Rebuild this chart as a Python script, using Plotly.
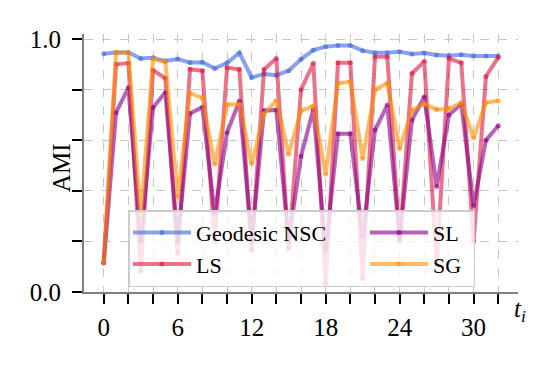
import plotly.graph_objects as go

t_steps = list(range(33))

geodesic_nsc = [0.942, 0.947, 0.947, 0.923, 0.926, 0.913, 0.921, 0.907, 0.908, 0.884, 0.905,
                0.945, 0.848, 0.862, 0.857, 0.875, 0.920, 0.956, 0.970, 0.975, 0.975, 0.954,
                0.946, 0.946, 0.950, 0.941, 0.945, 0.937, 0.934, 0.938, 0.933, 0.933, 0.933]
ls_vals = [0.116, 0.900, 0.905, 0.080, 0.876, 0.845, 0.152, 0.881, 0.875, 0.200, 0.887,
           0.880, 0.165, 0.880, 0.923, 0.170, 0.800, 0.904, 0.033, 0.906, 0.906, 0.053,
           0.930, 0.930, 0.200, 0.864, 0.912, 0.105, 0.924, 0.906, 0.200, 0.852, 0.928]
sl_vals = [0.116, 0.709, 0.808, 0.200, 0.729, 0.789, 0.200, 0.706, 0.730, 0.310, 0.630,
           0.755, 0.200, 0.717, 0.720, 0.200, 0.537, 0.722, 0.170, 0.626, 0.626, 0.220,
           0.640, 0.739, 0.210, 0.680, 0.772, 0.417, 0.700, 0.743, 0.341, 0.600, 0.657]
sg_vals = [0.116, 0.947, 0.947, 0.300, 0.921, 0.910, 0.376, 0.786, 0.767, 0.505, 0.741,
           0.742, 0.508, 0.705, 0.757, 0.545, 0.716, 0.735, 0.466, 0.825, 0.831, 0.528,
           0.800, 0.825, 0.567, 0.719, 0.743, 0.722, 0.724, 0.748, 0.610, 0.748, 0.756]

x_tickvals = list(range(0, 33, 2))
x_ticktext = [str(v) if v % 6 == 0 else "" for v in x_tickvals]
y_tickvals = [0.0, 0.2, 0.4, 0.6, 0.8, 1.0]
y_ticktext = ["0.0", "", "", "", "", "1.0"]

series = [
    ("Geodesic NSC", geodesic_nsc, "rgba(65,105,225,0.62)", "g1", 164),
    ("LS", ls_vals, "rgba(220,20,60,0.6)", "g1", 164),
    ("SL", sl_vals, "rgba(139,0,139,0.62)", "g2", 35),
    ("SG", sg_vals, "rgba(255,140,0,0.6)", "g2", 35),
]

FONT = "Liberation Serif"
TICK_SIZE = 25

fig = go.Figure()
for name, vals, col, grp, lw in series:
    fig.add_trace(go.Scatter(
        x=t_steps, y=vals, name=name, mode="lines+markers",
        line=dict(color=col, width=4),
        marker=dict(color=col, size=5),
        legendgroup=grp, legendwidth=lw,
    ))

axis_common = dict(
    showgrid=True, griddash="dash", gridcolor="#c8c8c8", gridwidth=1,
    showline=True, linecolor="#808080", linewidth=2,
    ticks="outside", ticklen=10, tickwidth=2, tickcolor="black",
    zeroline=False, tickfont=dict(family=FONT, size=TICK_SIZE, color="black"),
    mirror=False,
)

fig.update_layout(
    width=550, height=366,
    margin=dict(l=84, r=32, t=34, b=74),
    paper_bgcolor="white", plot_bgcolor="white",
    xaxis=dict(range=[-1.6, 33.6], tickmode="array", tickvals=x_tickvals,
               ticktext=x_ticktext, ticklabelstandoff=2, **axis_common),
    yaxis=dict(range=[0, 1.02], tickmode="array", tickvals=y_tickvals,
               ticktext=y_ticktext, ticklabelstandoff=6, **axis_common),
    legend=dict(
        orientation="h", traceorder="grouped", itemwidth=58,
        x=0.1014, y=0.317, xanchor="left", yanchor="top",
        bgcolor="rgba(255,255,255,0.8)", bordercolor="#cccccc", borderwidth=1.5,
        font=dict(family=FONT, size=22, color="black"),
        tracegroupgap=0,
    ),
    showlegend=True,
    annotations=[
        dict(text="AMI", xref="paper", yref="paper", x=-0.053, y=0.484,
             textangle=-90, showarrow=False, xanchor="center", yanchor="middle",
             font=dict(family=FONT, size=TICK_SIZE, color="black")),
        dict(text="<i>t<sub>i</sub></i>", xref="paper", yref="paper", x=1.005, y=-0.07,
             showarrow=False, xanchor="center", yanchor="middle",
             font=dict(family=FONT, size=TICK_SIZE, color="black")),
    ],
)

fig.write_html("out.html", config={"displayModeBar": False},
               post_script="document.body.style.margin='0px';")
